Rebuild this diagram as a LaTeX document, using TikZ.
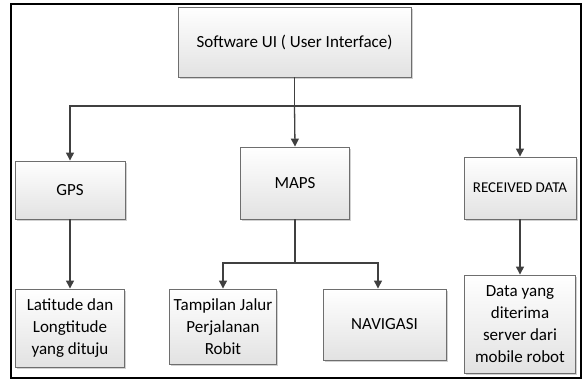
\documentclass[tikz,border=0pt]{standalone}
\usepackage{fontspec}
\setmainfont{Carlito}
\usetikzlibrary{arrows.meta,shadows}
\definecolor{boxline}{HTML}{6E6E6E}
\definecolor{boxfill}{HTML}{E2E2E2}
\definecolor{linkc}{HTML}{404040}
\begin{document}
\begin{tikzpicture}[x=1pt,y=-1pt,
  box/.style={draw=boxline, line width=0.9pt, top color=white, bottom color=boxfill,
    drop shadow={shadow xshift=1.5pt, shadow yshift=-1.5pt, fill=black!30, opacity=0.6},
    align=center, inner sep=0pt, font=\fontsize{17}{22}\selectfont},
  link/.style={draw=linkc, line width=1.3pt},
  arr/.style={link, -{Triangle[length=8pt,width=8pt]}}]
\useasboundingbox (0,0) rectangle (584,381);
% outer frame
\draw[line width=2pt] (11,4) rectangle (581,378);

% boxes
\node[box, minimum width=233pt, minimum height=70pt] (ui) at (294.5,42) {Software UI ( User Interface)};
\node[box, minimum width=110pt, minimum height=58pt] (gps) at (70,190) {GPS};
\node[box, minimum width=109pt, minimum height=72pt] (maps) at (295,183) {MAPS};
\node[box, minimum width=112pt, minimum height=62pt, font=\fontsize{15}{20}\selectfont] (recv) at (520,188) {RECEIVED DATA};
\node[box, minimum width=109pt, minimum height=78pt] (lat) at (70,328) {Latitude dan\\Longtitude\\yang dituju};
\node[box, minimum width=107pt, minimum height=75pt] (tamp) at (223,326.5) {Tampilan Jalur\\Perjalanan\\Robit};
\node[box, minimum width=123pt, minimum height=71pt] (navi) at (384.5,324.5) {NAVIGASI};
\node[box, minimum width=111pt, minimum height=98pt] (data) at (520,324) {Data yang\\diterima\\server dari\\mobile robot};

% connectors
\coordinate (bus) at (294.5,106);
\coordinate (split) at (295,263);
\draw[link] (ui.south) -- (bus);
\draw[arr] (bus) -| (gps.north);
\draw[arr] (bus) -- (maps.north);
\draw[arr] (bus) -| (recv.north);
\draw[arr] (gps) -- (lat);
\draw[link] (maps.south) -- (split);
\draw[arr] (split) -| (tamp.north);
\draw[arr] (split) -| ([xshift=-6.5pt]navi.north);
\draw[arr] (recv) -- (data);
\end{tikzpicture}
\end{document}
